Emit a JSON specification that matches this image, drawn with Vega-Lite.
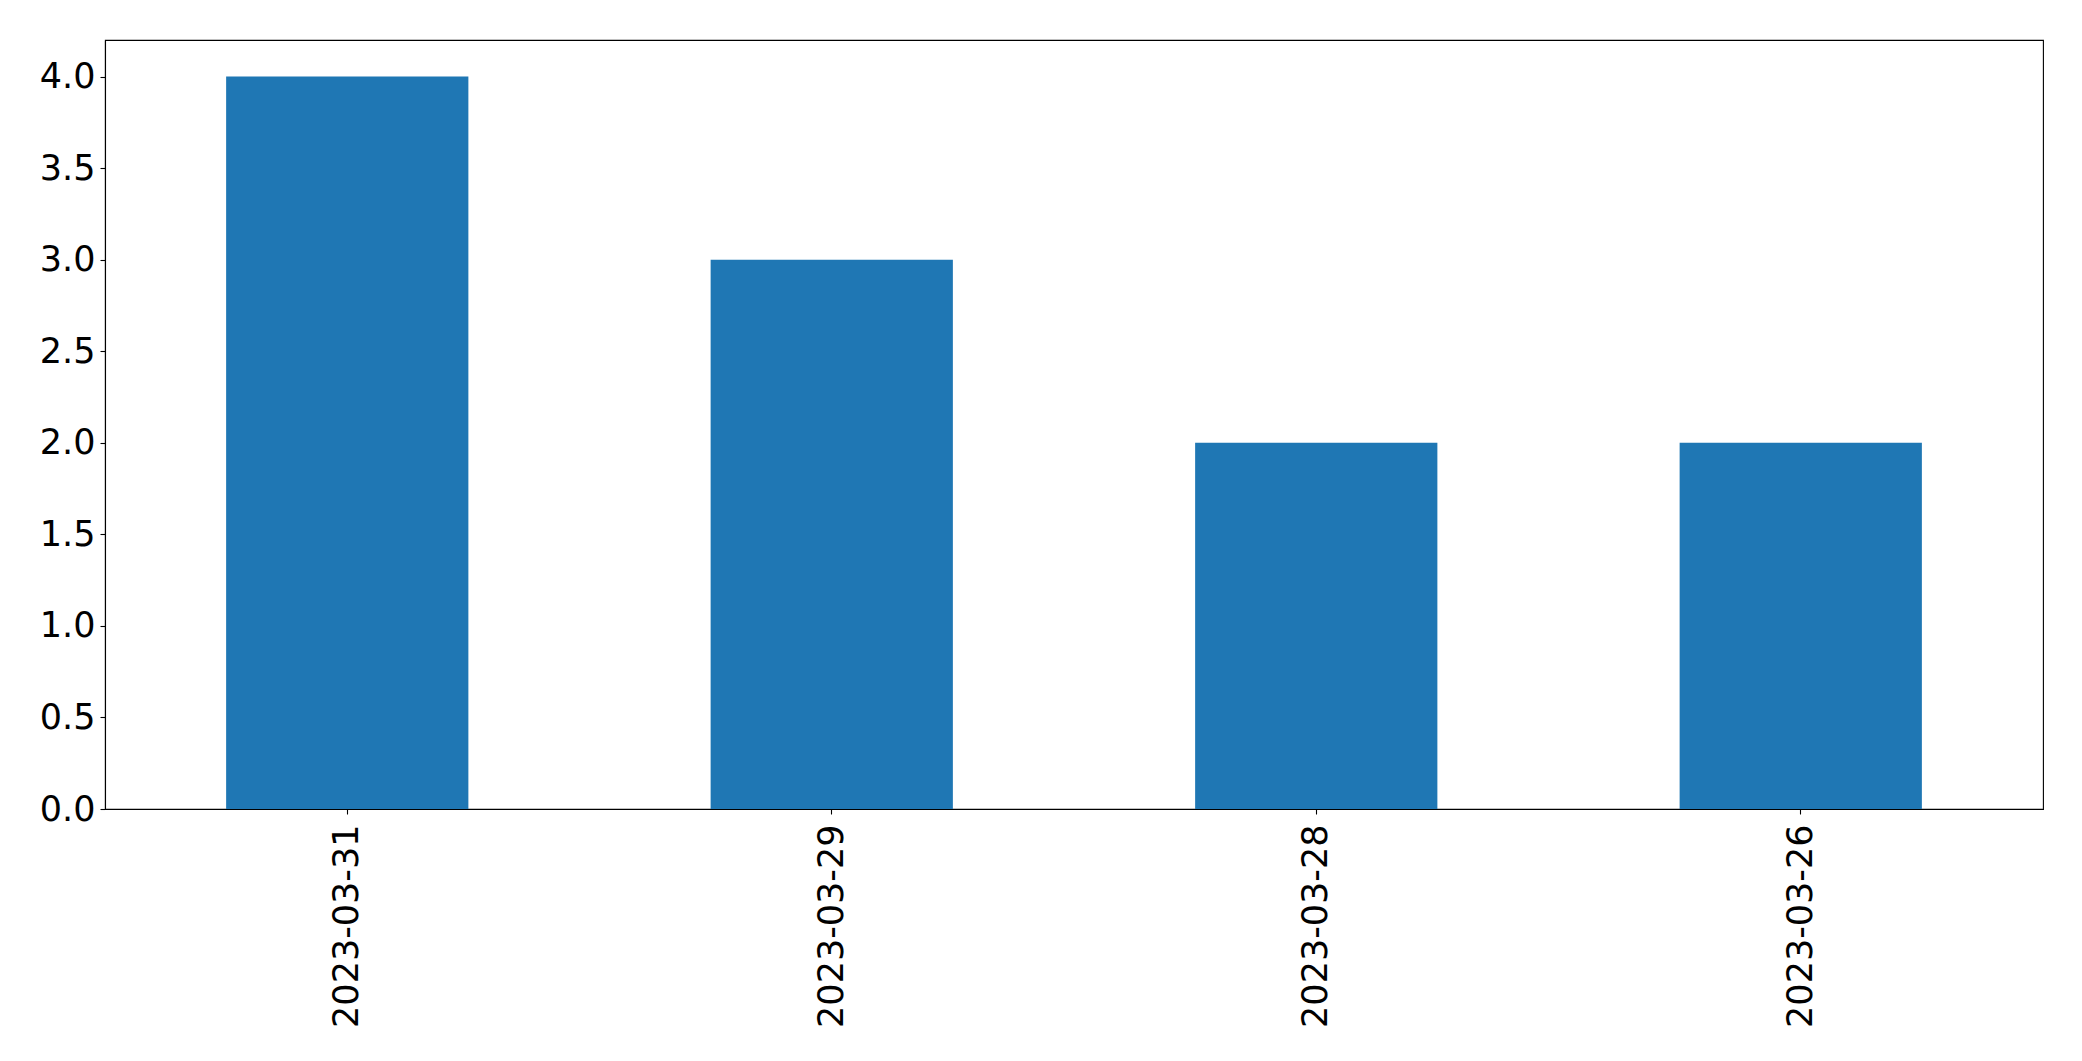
{
  "$schema": "https://vega.github.io/schema/vega-lite/v6.json",
  "width": 1938,
  "height": 769,
  "autosize": "none",
  "padding": {"left": 105, "top": 40, "right": 39, "bottom": 252},
  "background": "white",
  "config": {
    "view": {"stroke": "black", "strokeWidth": 1.1},
    "axis": {
      "grid": false,
      "domainColor": "black",
      "domainWidth": 1.1,
      "tickColor": "black",
      "tickWidth": 1.1,
      "tickSize": 5,
      "labelFont": "DejaVu Sans",
      "labelFontSize": 35,
      "labelColor": "black",
      "labelLimit": 0,
      "title": null
    }
  },
  "data": {
    "values": [
      {"date": "2023-03-31", "count": 4},
      {"date": "2023-03-29", "count": 3},
      {"date": "2023-03-28", "count": 2},
      {"date": "2023-03-26", "count": 2}
    ]
  },
  "mark": {"type": "bar", "color": "#1f77b4"},
  "encoding": {
    "x": {
      "field": "date",
      "type": "nominal",
      "sort": null,
      "scale": {"paddingInner": 0.5, "paddingOuter": 0.25},
      "axis": {"labelAngle": 270, "labelPadding": 10, "labelAlign": "right", "labelBaseline": "middle", "labelLimit": 0}
    },
    "y": {
      "field": "count",
      "type": "quantitative",
      "scale": {"domain": [0, 4.2], "nice": false},
      "axis": {"values": [0, 0.5, 1, 1.5, 2, 2.5, 3, 3.5, 4], "format": ".1f", "labelPadding": 5}
    }
  }
}
